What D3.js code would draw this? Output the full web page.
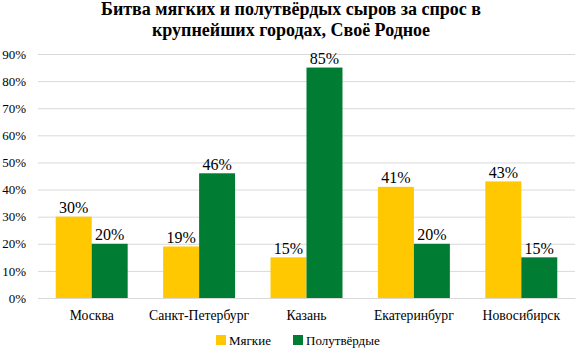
<!DOCTYPE html>
<html><head><meta charset="utf-8">
<script src="https://cdn.jsdelivr.net/npm/d3@7"></script>
<style>body{margin:0;background:#fff}svg{display:block}svg text{font-family:"Liberation Serif","Times New Roman",serif}</style>
</head><body>
<svg id="c" width="582" height="357"></svg>
<script>
const categories = ["Москва","Санкт-Петербург","Казань","Екатеринбург","Новосибирск"];
const seriesNames = ["Мягкие","Полутвёрдые"];
const soft = [30,19,15,41,43];
const semiHard = [20,46,85,20,15];
const yTicks = [0,10,20,30,40,50,60,70,80,90];
const colors = ["#FFC800","#007D32"];
const titleLines = ["Битва мягких и полутвёрдых сыров за спрос в","крупнейших городах, Своё Родное"];

const svg = d3.select("#c");
const font = "'Liberation Serif','Times New Roman',serif";
const m = {l:38, r:575, t:54, b:298};
const x = d3.scaleBand().domain(categories).range([m.l, m.r]).paddingInner(0.33).paddingOuter(0.165);
const x1 = d3.scaleBand().domain(seriesNames).range([0, x.bandwidth()]);
const y = d3.scaleLinear().domain([0,90]).range([m.b, m.t]);

svg.append("g").selectAll("text").data(titleLines).join("text")
  .attr("x", 291).attr("y",(d,i)=>15+i*21).attr("text-anchor","middle")
  .style("font-family",font).attr("font-weight","bold").attr("font-size",18).attr("fill","#000").text(d=>d);

const yAxis = svg.append("g").attr("transform",`translate(${m.l},0)`)
  .call(d3.axisLeft(y).tickValues(yTicks).tickFormat(d=>d+"%").tickSize(-(m.r-m.l)).tickPadding(10));
yAxis.attr("font-family",null);
yAxis.select(".domain").remove();
yAxis.selectAll("line").attr("stroke","#d9d9d9");
yAxis.selectAll("text").style("font-family",font).attr("font-size",13).attr("fill","#000").attr("x",-12);

const xAxis = svg.append("g").attr("transform",`translate(0,${m.b})`)
  .call(d3.axisBottom(x).tickSize(0).tickPadding(12));
xAxis.attr("font-family",null);
xAxis.select(".domain").attr("stroke","#d9d9d9");
xAxis.selectAll("text").style("font-family",font).attr("font-size",13.7).attr("fill","#000");

const data = categories.map((c,i)=>({c, vals:[soft[i], semiHard[i]]}));
const g = svg.append("g").selectAll("g").data(data).join("g")
  .attr("transform",d=>`translate(${x(d.c)},0)`);
g.selectAll("rect").data(d=>d.vals.map((v,j)=>({v,s:seriesNames[j],j}))).join("rect")
  .attr("x",d=>x1(d.s)).attr("width",x1.bandwidth())
  .attr("y",d=>y(d.v)).attr("height",d=>y(0)-y(d.v)).attr("fill",d=>colors[d.j]);
g.selectAll("text").data(d=>d.vals.map((v,j)=>({v,s:seriesNames[j],j}))).join("text")
  .attr("x",d=>x1(d.s)+x1.bandwidth()/2).attr("y",d=>y(d.v)-3.5).attr("text-anchor","middle")
  .style("font-family",font).attr("font-size",16).attr("fill","#000").text(d=>d.v+"%");

const leg = svg.append("g").selectAll("g").data(seriesNames).join("g")
  .attr("transform",(d,i)=>`translate(${[216,293][i]},340)`);
leg.append("rect").attr("x",0).attr("y",-5).attr("width",10).attr("height",10).attr("fill",(d,i)=>colors[i]);
leg.append("text").attr("x",13).attr("y",4.5).style("font-family",font).attr("font-size",13).attr("fill","#000").text(d=>d);
</script>
</body></html>
